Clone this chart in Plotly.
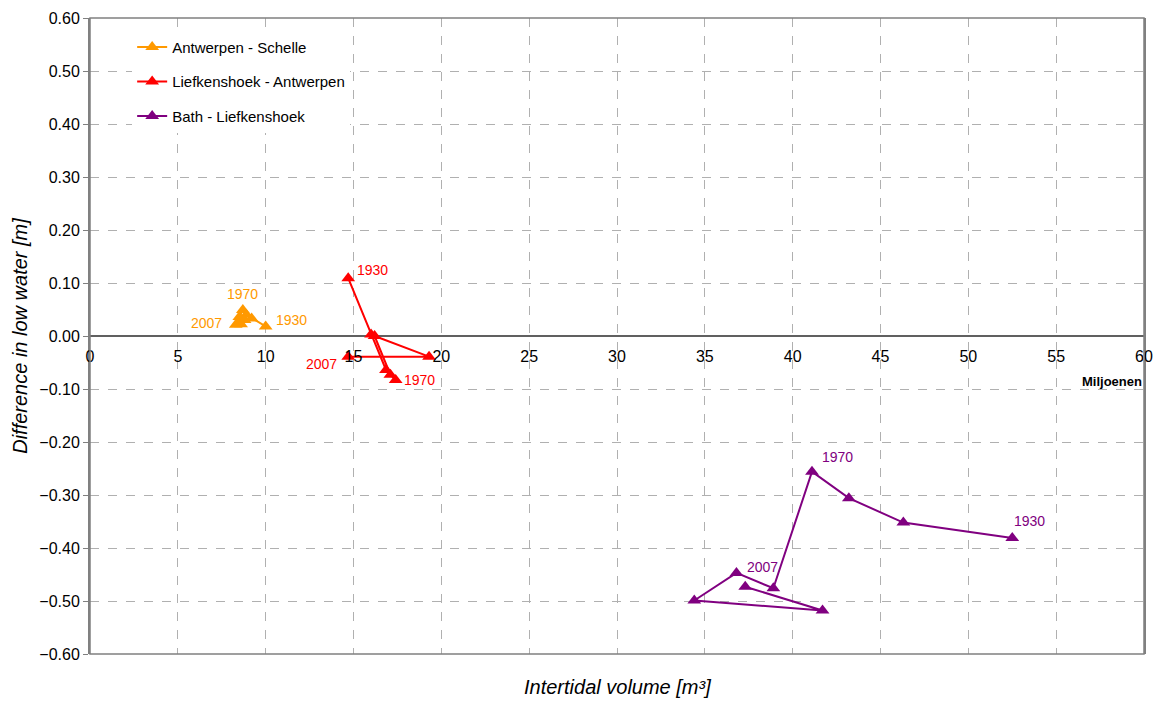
import plotly.graph_objects as go

# Data (x in millions of m3, y in m)
series_names = ["Antwerpen - Schelle", "Liefkenshoek - Antwerpen", "Bath - Liefkenshoek"]
series_colors = ["#FF9900", "#FF0000", "#800080"]

ant_x = [10.0, 9.2, 8.9, 8.7, 8.5, 8.8, 8.45, 8.6, 8.3]
ant_y = [0.018, 0.033, 0.040, 0.049, 0.036, 0.030, 0.025, 0.022, 0.021]

lief_x = [14.7, 16.0, 16.85, 17.4, 17.1, 16.2, 19.3, 14.7]
lief_y = [0.109, 0.003, -0.064, -0.083, -0.073, 0.000, -0.039, -0.039]

bath_x = [52.5, 46.3, 43.2, 41.1, 38.9, 36.8, 34.4, 41.7, 37.3]
bath_y = [-0.381, -0.352, -0.306, -0.256, -0.476, -0.447, -0.499, -0.518, -0.473]

# Year labels: (series index, point index, text)
year_labels = [
    (0, 0, "1930"), (0, 3, "1970"), (0, 8, "2007"),
    (1, 0, "1930"), (1, 3, "1970"), (1, 7, "2007"),
    (2, 0, "1930"), (2, 3, "1970"), (2, 8, "2007"),
]
# label placement styles (xanchor, xshift, yshift)
label_pos = [
    ("left", 8, 6), ("center", 0, 16), ("right", -12, 2),
    ("left", 7, 8), ("left", 6, 0), ("right", -9, -7),
    ("left", 0, 17), ("left", 8, 15), ("left", 0, 20),
]

xs = [ant_x, lief_x, bath_x]
ys = [ant_y, lief_y, bath_y]

fig = go.Figure()
for i in range(3):
    fig.add_trace(go.Scatter(
        x=xs[i], y=ys[i], mode="lines+markers", name=series_names[i],
        legendgroup=str(i),
        line=dict(color=series_colors[i], width=2),
        marker=dict(symbol="triangle-up", size=12, color=series_colors[i]),
    ))

annotations = []
for (si, pi, txt), (xa, xsh, ysh) in zip(year_labels, label_pos):
    annotations.append(dict(
        x=xs[si][pi], y=ys[si][pi], text=txt, showarrow=False,
        xanchor=xa, yanchor="middle", xshift=xsh, yshift=ysh,
        font=dict(size=14, color=series_colors[si], family="Liberation Sans, Arial"),
    ))
annotations.append(dict(
    x=0.5, y=0, xref="paper", yref="paper", text="<i>Intertidal volume [m³]</i>",
    showarrow=False, xanchor="center", yanchor="middle", yshift=-33,
    font=dict(size=20, color="black", family="Liberation Sans, Arial"),
))
annotations.append(dict(
    x=1.0, y=0.5, xref="paper", yref="paper", text="<b>Miljoenen</b>",
    showarrow=False, xanchor="right", yanchor="middle", yshift=-45,
    font=dict(size=13, color="black", family="Liberation Sans, Arial"),
))

fig.update_layout(
    width=1160, height=702,
    margin=dict(l=90, r=16, t=18, b=48, autoexpand=False),
    plot_bgcolor="white", paper_bgcolor="white",
    font=dict(family="Liberation Sans, Arial", size=14, color="black"),
    showlegend=True,
    legend=dict(
        x=0.04, y=0.98, xanchor="left", yanchor="top",
        bgcolor="white", font=dict(size=15),
        traceorder="grouped", tracegroupgap=12,
    ),
    annotations=annotations,
    xaxis=dict(
        range=[0, 60], dtick=5, tick0=0,
        anchor="free", position=0.5, automargin=False,
        showline=False, zeroline=False,
        showgrid=True, gridcolor="#B0B0B0", griddash="dash", gridwidth=1,
        ticks="", tickfont=dict(size=16),
        ticklabelstandoff=9,
    ),
    yaxis=dict(
        range=[-0.6, 0.6], dtick=0.1, tick0=0, tickformat=".2f", automargin=False,
        showline=True, linecolor="#808080", linewidth=2, mirror=True,
        showgrid=True, gridcolor="#B0B0B0", griddash="dash", gridwidth=1,
        zeroline=True, zerolinecolor="#606060", zerolinewidth=1.5,
        ticks="outside", ticklen=5, tickcolor="#808080",
        tickfont=dict(size=16),
        title=dict(text="<i>Difference in low water [m]</i>", font=dict(size=20), standoff=6),
    ),
)
fig.add_shape(type="rect", xref="paper", yref="paper", x0=0, y0=0, x1=1, y1=1,
              line=dict(color="#808080", width=1.5), fillcolor="rgba(0,0,0,0)")

fig.write_html("out.html", config={"displayModeBar": False},
               post_script="document.body.style.margin='0';document.body.style.overflow='hidden';")
